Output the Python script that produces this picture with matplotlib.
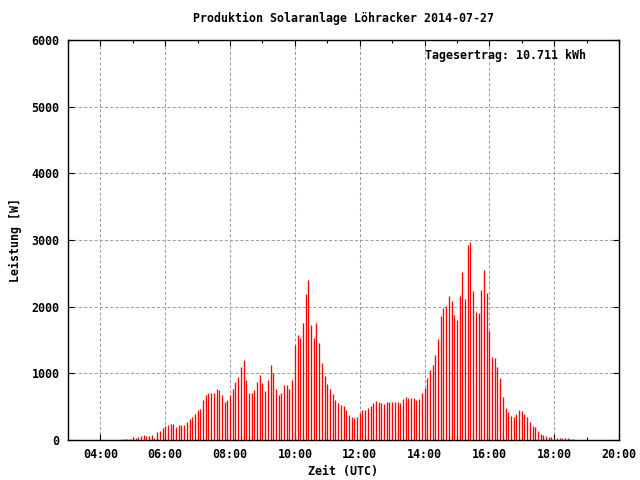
import numpy as np
import pandas as pd
import matplotlib
matplotlib.use("Agg")
import matplotlib.pyplot as plt
import matplotlib.dates as mdates

# Leistung in W, alle 5 Minuten ab 04:40 UTC
start = "2014-07-27 04:40"
interval = "5min"
leistung = [
    15, 15, 15, 20, 30, 35, 50, 60, 80, 65,
    65, 80, 35, 115, 140, 185, 215, 220, 245, 245,
    200, 220, 230, 230, 275, 315, 350, 395, 455, 470,
    605, 680, 705, 705, 705, 770, 755, 670, 565, 605,
    680, 765, 870, 945, 1095, 1200, 900, 705, 705, 750,
    870, 975, 855, 735, 900, 1125, 1005, 765, 675, 705,
    825, 825, 765, 900, 1425, 1575, 1530, 1755, 2190, 2400,
    1725, 1530, 1755, 1455, 1155, 960, 840, 765, 690, 600,
    555, 525, 510, 450, 375, 345, 330, 345, 405, 450,
    450, 480, 510, 555, 585, 570, 555, 540, 570, 570,
    570, 570, 570, 555, 615, 645, 630, 630, 630, 600,
    615, 705, 780, 930, 1050, 1125, 1275, 1515, 1860, 1980,
    2010, 2160, 2085, 1875, 1800, 2160, 2520, 2115, 2925, 2970,
    2235, 1920, 1905, 2250, 2550, 2205, 1635, 1245, 1230, 1095,
    930, 645, 480, 420, 360, 345, 390, 450, 435, 390,
    345, 270, 210, 195, 135, 90, 75, 60, 45, 45,
    40, 30, 35, 35, 35, 35, 20, 15,
]
zeit = pd.date_range(start, periods=len(leistung), freq=interval)

title = "Produktion Solaranlage Löhracker 2014-07-27"
ertrag = "Tagesertrag: 10.711 kWh"

plt.rcParams['font.family'] = ['DejaVu Sans Mono']
plt.rcParams['font.weight'] = 'bold'
plt.rcParams['axes.labelweight'] = 'bold'
plt.rcParams['font.size'] = 8.4

fig = plt.figure(figsize=(6.4, 4.8), dpi=100)
ax = fig.add_axes([68 / 640, 40 / 480, 551 / 640, 400 / 480])

ax.vlines(zeit, 0, leistung, color='red', lw=0.95)

ax.set_xlim(pd.Timestamp("2014-07-27 03:00"), pd.Timestamp("2014-07-27 20:00"))
ax.set_ylim(0, 6000)
ax.xaxis.set_major_locator(mdates.HourLocator(byhour=range(4, 21, 2)))
ax.xaxis.set_minor_locator(mdates.HourLocator())
ax.xaxis.set_major_formatter(mdates.DateFormatter('%H:%M'))
ax.set_yticks(np.arange(0, 6001, 1000))

ax.tick_params(which='both', direction='in', top=True, right=True, color='black')
ax.tick_params(which='major', length=4.5, width=0.8, pad=6)
ax.tick_params(which='minor', length=2.5, width=0.8)
for s in ax.spines.values():
    s.set_linewidth(1.0)

ax.grid(True, which='major', color='#a0a0a0', lw=0.75, linestyle=(0, (3, 2)))
ax.set_axisbelow(True)

ax.set_xlabel("Zeit (UTC)", labelpad=3)
ax.set_ylabel("Leistung [W]", labelpad=7)
fig.text(0.5367, 1 - 18 / 480, title, ha='center', va='center')
ax.text(0.648, 0.96, ertrag, transform=ax.transAxes, ha='left', va='center')

fig.savefig("out.png", dpi=100)
